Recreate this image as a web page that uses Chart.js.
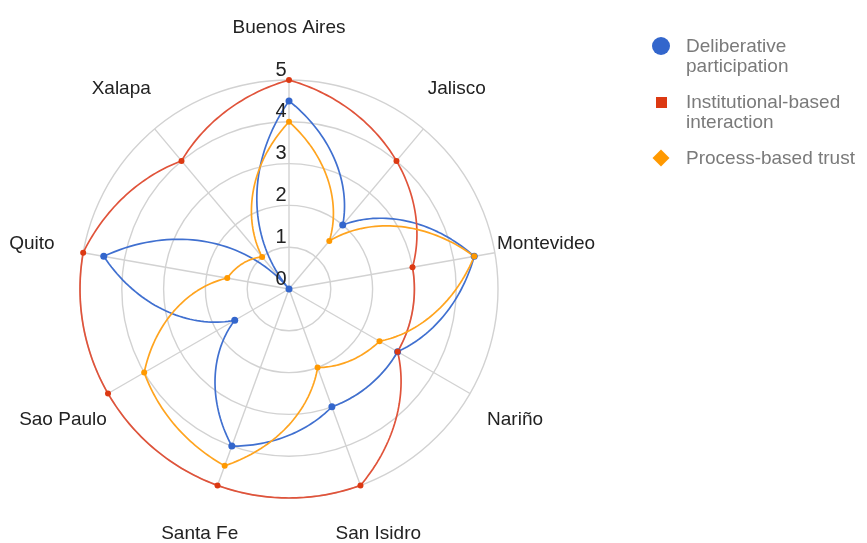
<!DOCTYPE html>
<html>
<head>
<meta charset="utf-8">
<script src="https://cdn.jsdelivr.net/npm/chart.js@4/dist/chart.umd.min.js"></script>
<style>
  html, body { margin: 0; padding: 0; background: #fff; }
  #wrap { position: relative; width: 867px; height: 543px; }
  #chart { position: absolute; left: 0; top: 0; }
  .legend { position: absolute; left: 650px; top: 0; font-family: "Liberation Sans", Arial, sans-serif;
    font-size: 19px; line-height: 20px; color: #7a7a7a; }
  .item { position: absolute; left: 0; width: 230px; }
  .item .txt { position: absolute; left: 36px; top: 0; white-space: nowrap; }
  .mark { position: absolute; }
</style>
</head>
<body>
<div id="wrap">
  <canvas id="chart" width="867" height="543"></canvas>
  <div class="legend" id="legend"></div>
</div>
<script>
const cities = ['Buenos Aires', 'Jalisco', 'Montevideo', 'Nariño', 'San Isidro', 'Santa Fe', 'Sao Paulo', 'Quito', 'Xalapa'];
const deliberative = [4.5, 2, 4.5, 3, 3, 4, 1.5, 4.5, 0];
const institutional = [5, 4, 3, 3, 5, 5, 5, 5, 4];
const processTrust = [4, 1.5, 4.5, 2.5, 2, 4.5, 4, 1.5, 1];
const tickValues = [0, 1, 2, 3, 4, 5];

const seriesNames = [['Deliberative', 'participation'], ['Institutional-based', 'interaction'], ['Process-based trust']];
const colors = ['#3366cc', '#dc3912', '#ff9900'];
const lineColors = ['#4070d0', '#e0533a', '#ffa41f'];

// lines are interpolated in polar space (radius changes linearly with angle), like the original
const polarLines = {
  id: 'polarLines',
  beforeDatasetsDraw(chart) {
    const r = chart.scales.r;
    const ctx = chart.ctx;
    const n = cities.length;
    const step = 2 * Math.PI / n;
    [0, 1, 2].forEach(di => {
      const vals = chart.data.datasets[di].data;
      ctx.save();
      ctx.strokeStyle = lineColors[di];
      ctx.lineWidth = 1.7;
      ctx.lineJoin = 'round';
      ctx.beginPath();
      for (let i = 0; i < n; i++) {
        const a = vals[i], b = vals[(i + 1) % n];
        for (let s = 0; s <= 40; s++) {
          const t = s / 40;
          const d = r.getDistanceFromCenterForValue(a + (b - a) * t);
          const p = r.getPointPosition(i, d, step * t);
          if (i === 0 && s === 0) ctx.moveTo(p.x, p.y); else ctx.lineTo(p.x, p.y);
        }
      }
      ctx.closePath();
      ctx.stroke();
      ctx.restore();
    });
  },
  afterDatasetsDraw(chart) {
    const r = chart.scales.r;
    const ctx = chart.ctx;
    ctx.save();
    ctx.fillStyle = '#222';
    ctx.textAlign = 'center';
    ctx.textBaseline = 'middle';
    ctx.font = '19px "Liberation Sans", Arial, sans-serif';
    cities.forEach((c, i) => {
      const p = r.getPointPosition(i, r.drawingArea + 52);
      ctx.fillText(c, p.x, p.y);
    });
    ctx.font = '20px "Liberation Sans", Arial, sans-serif';
    tickValues.forEach(v => {
      const d = r.getDistanceFromCenterForValue(v);
      ctx.fillText(String(v), r.xCenter - 8, r.yCenter - d - 10);
    });
    ctx.restore();
  }
};

const datasets = [deliberative, institutional, processTrust].map((d, i) => ({
  label: seriesNames[i].join(' '),
  data: d,
  showLine: false,
  fill: false,
  borderColor: colors[i],
  backgroundColor: colors[i],
  pointBackgroundColor: colors[i],
  pointBorderWidth: 0,
  pointRadius: i === 0 ? 3.5 : 3,
  order: 3 - i
}));

new Chart(document.getElementById('chart'), {
  type: 'radar',
  data: { labels: cities, datasets },
  options: {
    responsive: false,
    animation: false,
    layout: { padding: { left: 80, right: 369, top: 80, bottom: 45 } },
    plugins: { legend: { display: false }, tooltip: { enabled: false } },
    scales: {
      r: {
        min: 0,
        max: 5,
        ticks: { stepSize: 1, display: false },
        grid: { color: '#d2d2d2', lineWidth: 1.4, circular: true },
        angleLines: { color: '#d2d2d2', lineWidth: 1.4 },
        pointLabels: { display: false }
      }
    }
  },
  plugins: [polarLines]
});

// legend
const legend = document.getElementById('legend');
const legendTops = [36, 92, 148];
const marks = [
  'left:2px;top:1px;width:18px;height:18px;border-radius:50%;',
  'left:6px;top:5px;width:11px;height:11px;',
  'left:5px;top:4px;width:12px;height:12px;transform:rotate(45deg);'
];
seriesNames.forEach((lines, i) => {
  const item = document.createElement('div');
  item.className = 'item';
  item.style.top = legendTops[i] + 'px';
  item.innerHTML = `<div class="mark" style="${marks[i]}background:${colors[i]}"></div>
    <div class="txt">${lines.join('<br>')}</div>`;
  legend.appendChild(item);
});
</script>
</body>
</html>
